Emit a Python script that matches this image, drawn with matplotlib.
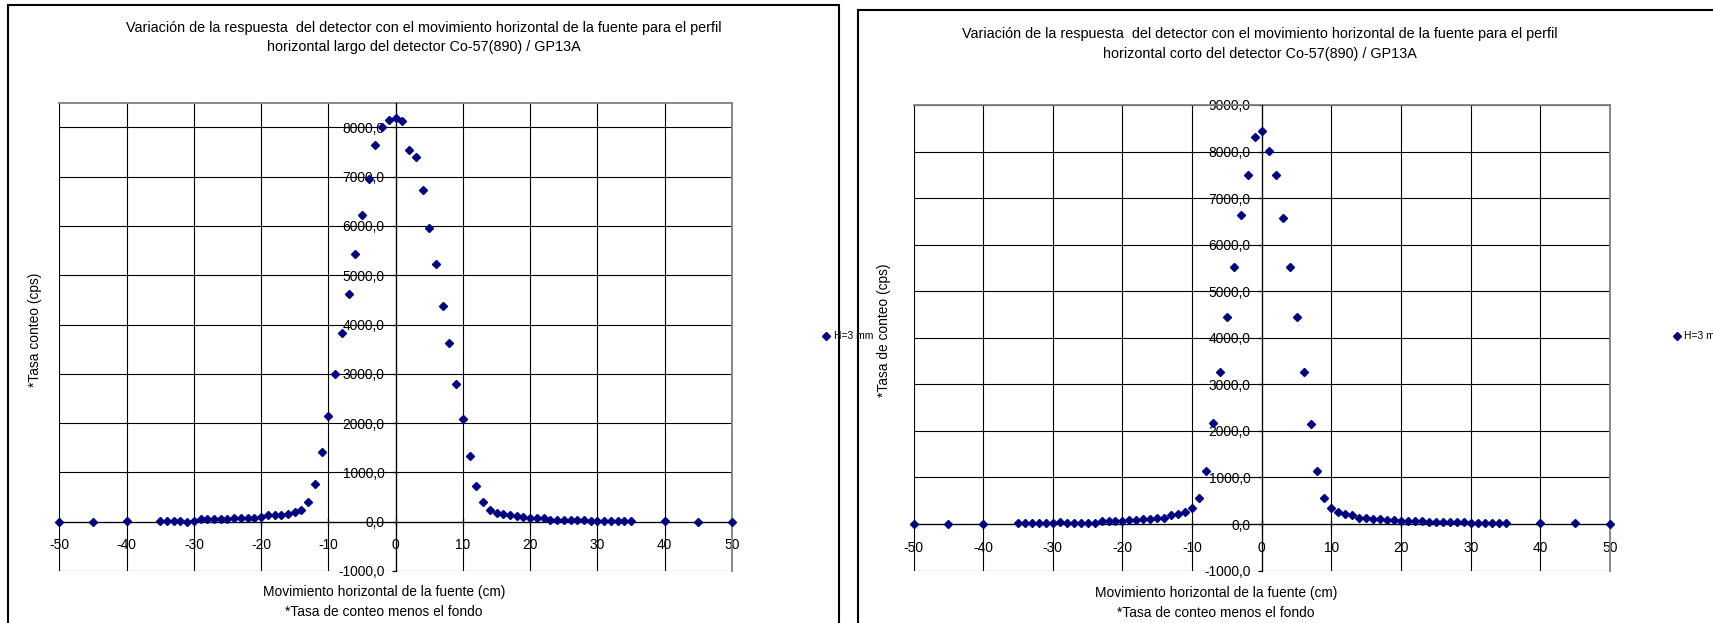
import matplotlib
matplotlib.use('Agg')
import matplotlib.pyplot as plt
from matplotlib.patches import Rectangle
from matplotlib.lines import Line2D
from matplotlib.ticker import FuncFormatter

plt.rcParams['font.family'] = ['Liberation Sans', 'DejaVu Sans']

# ---------------- data ----------------
x_largo = [-50, -45, -40,
           -35, -34, -33, -32, -31, -30, -29, -28, -27, -26, -25, -24, -23, -22, -21,
           -20, -19, -18, -17, -16, -15, -14, -13, -12, -11, -10, -9, -8, -7, -6, -5,
           -4, -3, -2, -1, 0, 1, 2, 3, 4, 5, 6, 7, 8, 9, 10, 11, 12, 13, 14, 15, 16,
           17, 18, 19, 20, 21, 22, 23, 24, 25, 26, 27, 28, 29, 30, 31, 32, 33, 34, 35,
           40, 45, 50]
y_largo = [0, 0, 10,
           20, 20, 20, 20, 0, 20, 47, 47, 47, 47, 47, 68, 68, 68, 68,
           101, 135, 135, 145, 150, 197, 237, 393, 758, 1414, 2144, 3002, 3834, 4612, 5424, 6227,
           6951, 7641, 8012, 8148, 8182, 8128, 7546, 7398, 6734, 5957, 5227, 4369, 3617, 2787, 2077, 1339, 730, 393, 237, 170, 150,
           130, 110, 105, 75, 68, 68, 34, 34, 34, 34, 34, 34, 14, 14, 14, 14, 14, 14, 14,
           20, 0, 0]

x_corto = [-50, -45, -40,
           -35, -34, -33, -32, -31, -30, -29, -28, -27, -26, -25, -24, -23, -22, -21,
           -20, -19, -18, -17, -16, -15, -14, -13, -12, -11, -10, -9, -8, -7, -6, -5,
           -4, -3, -2, -1, 0, 1, 2, 3, 4, 5, 6, 7, 8, 9, 10, 11, 12, 13, 14, 15, 16,
           17, 18, 19, 20, 21, 22, 23, 24, 25, 26, 27, 28, 29, 30, 31, 32, 33, 34, 35,
           40, 45, 50]
y_corto = [0, 0, 0,
           20, 20, 20, 20, 20, 14, 43, 29, 29, 29, 29, 29, 64, 64, 64,
           64, 86, 86, 107, 107, 136, 136, 193, 214, 265, 336, 551, 1143, 2160, 3260, 4446,
           5518, 6627, 7500, 8306, 8435, 8021, 7500, 6577, 5518, 4450, 3260, 2144, 1143, 551, 350, 265, 221, 193, 136, 136, 114,
           114, 86, 86, 64, 64, 71, 64, 43, 36, 36, 36, 36, 36, 14, 14, 14, 14, 14, 14,
           14, 14, 0]

x_ticks = [-50, -40, -30, -20, -10, 0, 10, 20, 30, 40, 50]
y_ticks_largo = [-1000, 0, 1000, 2000, 3000, 4000, 5000, 6000, 7000, 8000]
y_ticks_corto = [-1000, 0, 1000, 2000, 3000, 4000, 5000, 6000, 7000, 8000, 9000]

titulo_largo = ("Variación de la respuesta  del detector con el movimiento horizontal de la fuente para el perfil\n"
                "horizontal largo del detector Co-57(890) / GP13A")
titulo_corto = ("Variación de la respuesta  del detector con el movimiento horizontal de la fuente para el perfil\n"
                "horizontal corto del detector Co-57(890) / GP13A")
xlabel = "Movimiento horizontal de la fuente (cm)"
nota = "*Tasa de conteo menos el fondo"
ylabel_largo = "*Tasa conteo (cps)"
ylabel_corto = "*Tasa de conteo (cps)"
serie = "H=3 mm"

# ---------------- figure ----------------
W, H = 1713, 623
fig = plt.figure(figsize=(W / 100, H / 100), dpi=100)


def fx(px):
    return px / W


def fy(py):
    return 1 - py / H


NAVY = '#000080'
FS = 9.9
FS_T = 10.4
FS_LEG = 7.5


def panel(rect_px, x, y, ymax, yticks):
    x0, y0, x1, y1 = rect_px
    ax = fig.add_axes([fx(x0), fy(y1), (x1 - x0) / W, (y1 - y0) / H])
    ax.set_xlim(-50, 50)
    ax.set_ylim(-1000, ymax)
    ax.set_xticks(x_ticks)
    ax.set_yticks(yticks)
    ax.grid(True, color='black', lw=0.8)
    ax.set_axisbelow(True)
    ax.plot(x, y, linestyle='none', marker='D', ms=4.4, color=NAVY, mec=NAVY,
            clip_on=False, zorder=5)
    ax.spines['left'].set_position(('data', 0))
    ax.spines['bottom'].set_position(('data', 0))
    for s in ['left', 'bottom']:
        ax.spines[s].set_color('black')
        ax.spines[s].set_linewidth(0.9)
        ax.spines[s].set_zorder(3)
    for s in ['top', 'right']:
        ax.spines[s].set_color('#808080')
        ax.spines[s].set_linewidth(1.3)
    ax.yaxis.set_major_formatter(FuncFormatter(lambda v, p: f"{v:.1f}".replace('.', ',')))
    ax.xaxis.set_major_formatter(FuncFormatter(lambda v, p: f"{int(v)}"))
    ax.tick_params(axis='both', direction='out', length=3, width=0.9, labelsize=FS,
                   colors='black')
    ax.tick_params(axis='x', direction='inout', length=6, pad=9)
    ax.tick_params(axis='y', pad=5)
    ax.patch.set_alpha(0)
    return ax


ax1 = panel((59.3, 102.7, 732, 571), x_largo, y_largo, 8500, y_ticks_largo)
ax2 = panel((913.5, 105, 1610, 570.6), x_corto, y_corto, 9000, y_ticks_corto)

# chart borders
fig.patches.append(Rectangle((fx(8), fy(640)), (839 - 8) / W, (640 - 5) / H,
                             transform=fig.transFigure, fill=False, ec='black', lw=1.5))
fig.patches.append(Rectangle((fx(857.6), fy(640)), (1760 - 857.6) / W, (640 - 9.5) / H,
                             transform=fig.transFigure, fill=False, ec='black', lw=1.5))

# titles
fig.text(fx(424), fy(37.5), titulo_largo, ha='center', va='center', fontsize=FS_T,
         linespacing=1.5)
fig.text(fx(1260), fy(44), titulo_corto, ha='center', va='center', fontsize=FS_T,
         linespacing=1.5)

# axis labels
fig.text(fx(384), fy(592), xlabel, ha='center', va='center', fontsize=FS)
fig.text(fx(384), fy(612), nota, ha='center', va='center', fontsize=FS)
fig.text(fx(1216), fy(593), xlabel, ha='center', va='center', fontsize=FS)
fig.text(fx(1216), fy(613), nota, ha='center', va='center', fontsize=FS)
fig.text(fx(35), fy(330), ylabel_largo, ha='center', va='center', rotation=90, fontsize=FS)
fig.text(fx(884), fy(330), ylabel_corto, ha='center', va='center', rotation=90, fontsize=FS)

# legends
for mx, my in [(826, 336), (1677, 336)]:
    fig.add_artist(Line2D([fx(mx)], [fy(my)], transform=fig.transFigure, linestyle='none',
                          marker='D', ms=4.4, color=NAVY))
    fig.text(fx(mx + 7.5), fy(my), serie, ha='left', va='center', fontsize=FS_LEG)

fig.savefig('out.png', dpi=100)
